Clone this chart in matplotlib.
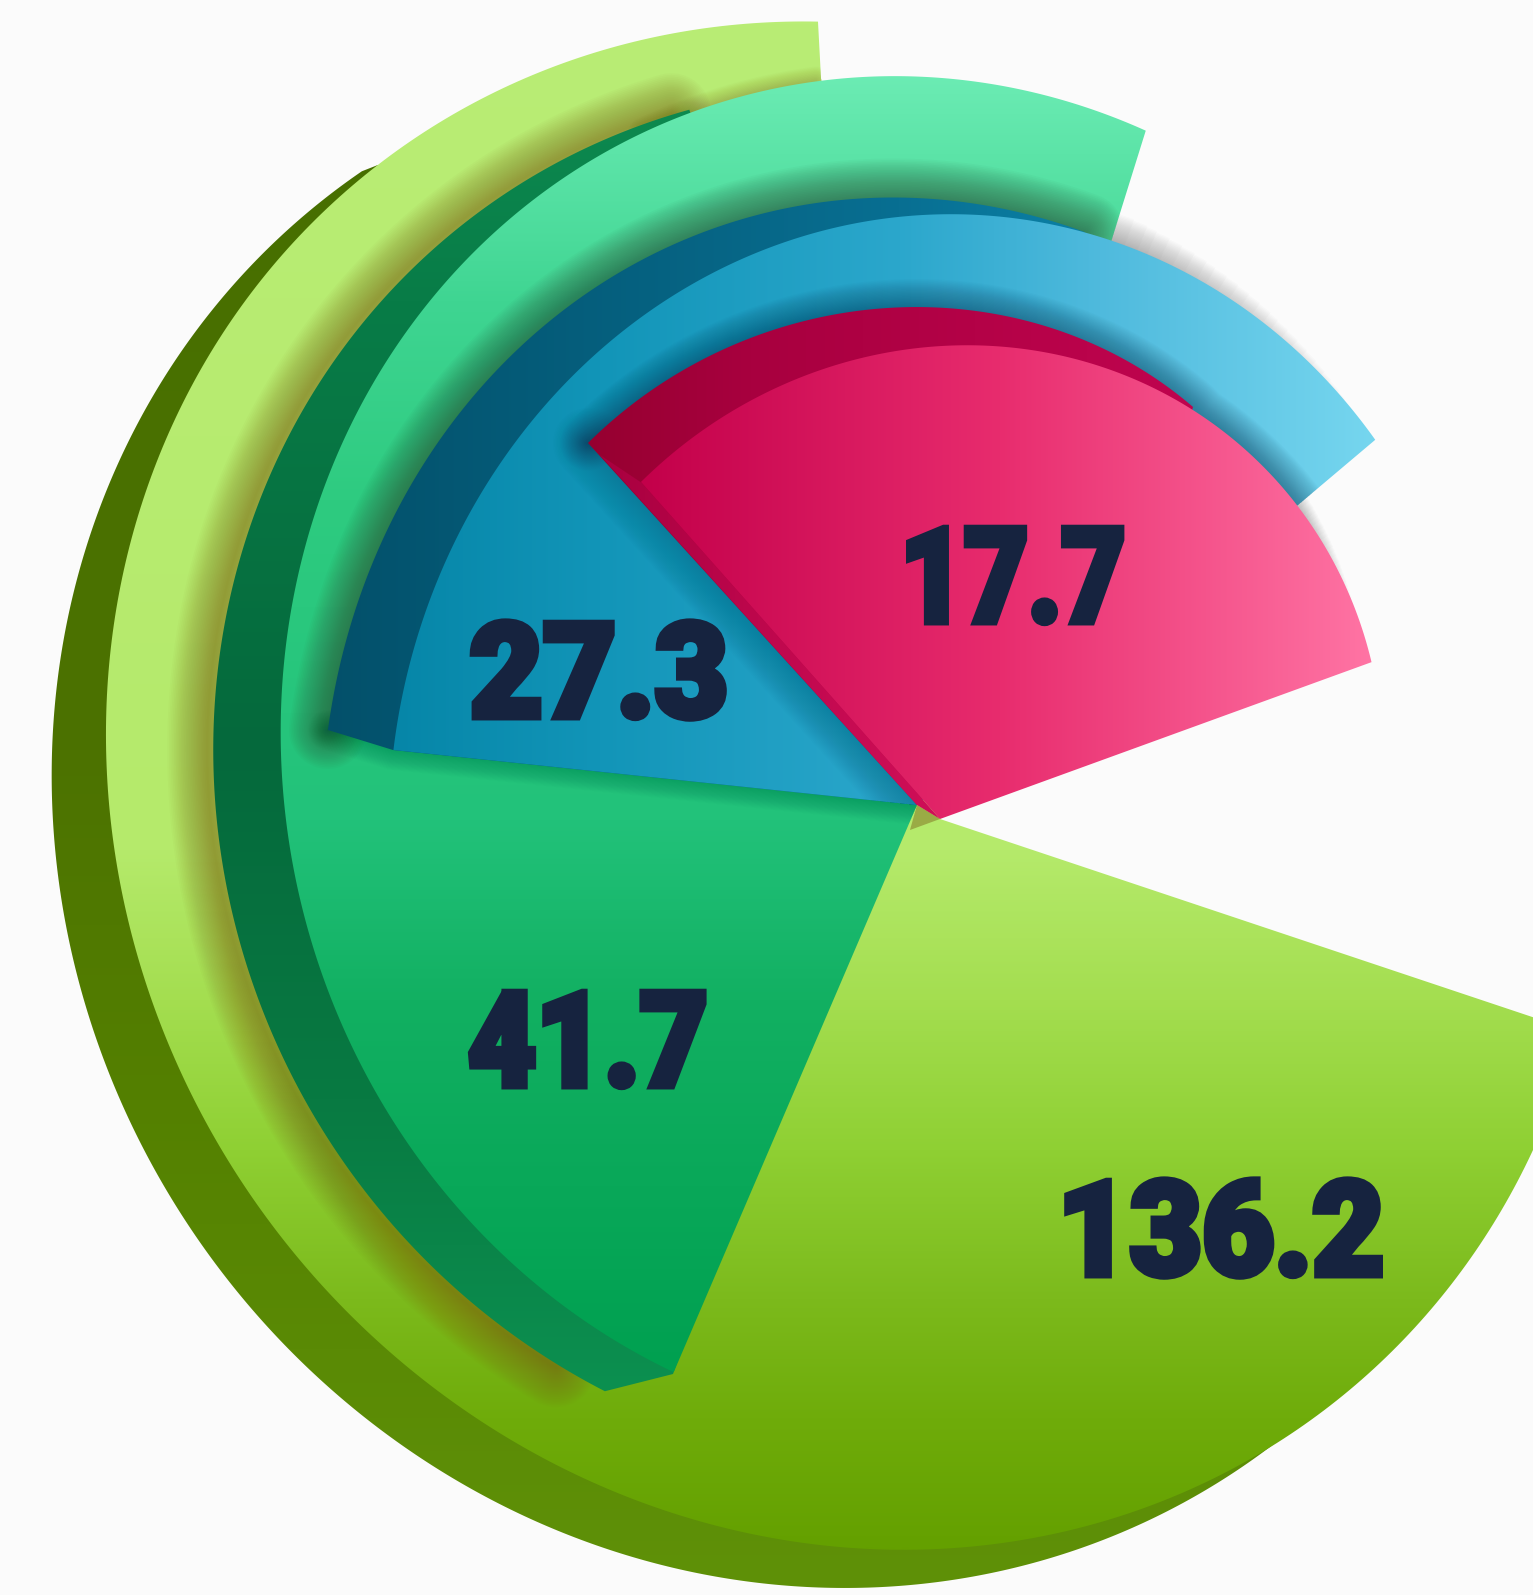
"""Layered 3D-style pie with four sections."""
import numpy as np
import matplotlib
matplotlib.use("Agg")
import matplotlib.pyplot as plt
import matplotlib.patheffects as pe
from matplotlib.colors import LinearSegmentedColormap
from matplotlib.patches import PathPatch, Polygon
from matplotlib.path import Path
from matplotlib.transforms import Affine2D

labels = ["136.2", "41.7", "27.3", "17.7"]
label_x = [1221, 588, 599, 1013]
label_base = [1275, 1086, 717, 622]
label_w = [334, 247, 266, 232]

# outlines of the sections
big_side_edge = [(363, 173), (267, 243), (183, 353), (103, 500), (53, 750), (83, 1000),
                 (137, 1133), (257, 1320), (493, 1500), (600, 1543), (800, 1587),
                 (1000, 1573), (1136, 1527), (1272, 1444)]
big_face_edge = [(1533, 1144), (1408, 1342), (1272, 1444), (1000, 1543), (800, 1542),
                 (567, 1467), (373, 1343), (253, 1197), (153, 1000), (118, 883),
                 (108, 717), (143, 500), (207, 360), (273, 263), (377, 167), (540, 72),
                 (660, 35), (818, 22)]
teal_side_edge = [(690, 112), (540, 165), (407, 280), (307, 407), (258, 500), (213, 767),
                  (257, 1000), (373, 1197), (540, 1355), (605, 1391)]
teal_face_edge = [(673, 1374), (633, 1350), (540, 1287), (423, 1160), (330, 1000),
                  (279, 733), (318, 500), (360, 410), (440, 293), (540, 197), (660, 122),
                  (821, 78), (889, 76), (1017, 92), (1146, 130)]
blue_side_edge = [(328, 730), (402, 500), (460, 413), (540, 330), (660, 250), (874, 198),
                  (1017, 212), (1085, 232)]
blue_face_edge = [(393, 750), (478, 500), (540, 413), (767, 243), (838, 226), (946, 218),
                  (946, 218), (1110, 242), (1217, 283), (1300, 357), (1375, 440)]
pink_side_edge = [(588, 443), (667, 380), (916, 307), (1000, 315), (1100, 347), (1193, 407)]
pink_face_edge = [(642, 483), (707, 423), (800, 380), (961, 347), (1100, 363), (1200, 417),
                  (1298, 505), (1340, 577), (1372, 662)]

W, H = 1533, 1595
TEXT = "#16233f"
APEX = (940, 819)
HUB = (917, 805)


def curve(points, n=400):
    """Elliptical arc fitted through read points, from the first to the last."""
    pts = np.array(points, float)
    mid = pts.mean(axis=0)
    x, y = (pts - mid).T / 500
    a, b, c, d, e = np.linalg.lstsq(np.column_stack([x * x, x * y, y * y, x, y]),
                                    np.ones(len(x)), rcond=None)[0]
    q = np.array([[a, b / 2], [b / 2, c]])
    cen = np.linalg.solve(2 * q, [-d, -e])
    k = 1 - (cen @ q @ cen + d * cen[0] + e * cen[1])
    ang = np.unwrap(np.arctan2(y - cen[1], x - cen[0]))
    t = np.linspace(ang[0], ang[-1], n)
    u = np.column_stack([np.cos(t), np.sin(t)])
    r = np.sqrt(k / np.einsum("ij,jk,ik->i", u, q, u))
    return (cen + u * r[:, None]) * 500 + mid


def part(arc, xmin, xmax, ymax=9999):
    return arc[(arc[:, 0] > xmin) & (arc[:, 0] < xmax) & (arc[:, 1] < ymax)]


def closed(*parts):
    pts = np.vstack([np.atleast_2d(p) for p in parts])
    pts = np.vstack([pts, pts[0]])
    codes = [Path.MOVETO] + [Path.LINETO] * (len(pts) - 2) + [Path.CLOSEPOLY]
    return Path(pts, codes)


def fill(ax, path, stops, vertical=True, zorder=1):
    """Paint a path with a linear gradient given as (pixel, colour) stops."""
    lo, hi = stops[0][0], stops[-1][0]
    cmap = LinearSegmentedColormap.from_list(
        "g", [((p - lo) / (hi - lo), c) for p, c in stops], N=1024)
    if vertical:
        g = np.clip((np.linspace(-100, H + 100, 1024) - lo) / (hi - lo), 0, 1)[:, None]
    else:
        g = np.clip((np.linspace(-100, W + 200, 1024) - lo) / (hi - lo), 0, 1)[None, :]
    im = ax.imshow(g, extent=(-100, W + 200, H + 100, -100), cmap=cmap, vmin=0, vmax=1,
                   aspect="auto", zorder=zorder)
    im.set_clip_path(PathPatch(path, transform=ax.transData))


def shadow(ax, pts, under, color, width, dx=0, dy=0, peak=0.03, zorder=1, taper=False):
    """Soft shadow: stacked strokes along an open edge, clipped to what lies below."""
    pts = np.asarray(pts, float) + [dx, dy]
    clip = None if under is None else PathPatch(under, transform=ax.transData)
    for w in np.linspace(width, 2, 24):
        # with taper the wide strokes stop early, so the shadow thins out along the edge
        keep = int(len(pts) * (1.05 - w / width)) if taper else len(pts)
        if keep < 2:
            continue
        p = PathPatch(Path(pts[:keep]), fc="none", ec=color, lw=w * 0.72, alpha=peak,
                      capstyle="butt" if taper else "round", joinstyle="round", zorder=zorder)
        ax.add_patch(p)
        if clip is not None:
            p.set_clip_path(clip)


class SqueezedStroke(pe.AbstractPathEffect):
    """Draw text narrower about its centre, with a mitred outline for weight."""

    def __init__(self, sx, cx, lw, color):
        super().__init__()
        self.sx, self.cx, self.lw, self.color = sx, cx, lw, color

    def draw_path(self, renderer, gc, tpath, affine, rgbFace):
        gc0 = renderer.new_gc()
        gc0.copy_properties(gc)
        gc0.set_linewidth(self.lw)
        gc0.set_foreground(self.color)
        gc0.set_joinstyle("miter")
        squeeze = Affine2D().translate(-self.cx, 0).scale(self.sx, 1).translate(self.cx, 0)
        renderer.draw_path(gc0, tpath, affine + squeeze, rgbFace)
        gc0.restore()


fig = plt.figure(figsize=(15.33, 15.95), dpi=100, facecolor="#fbfbfb")
ax = fig.add_axes([0, 0, 1, 1])
ax.set_facecolor("#fbfbfb")
ax.set_xlim(0, W)
ax.set_ylim(H, 0)
ax.axis("off")

big_side_arc = curve(big_side_edge)
big_face_arc = curve(big_face_edge)
teal_side_arc = curve(teal_side_edge)
teal_face_arc = curve(teal_face_edge)
blue_side_arc = curve(blue_side_edge)
blue_face_arc = curve(blue_face_edge)
pink_side_arc = curve(pink_side_edge)
pink_face_arc = curve(pink_face_edge)

# the side of the big section tapers into its face at the upper left
taper_end = part(big_face_arc, 0, 378, ymax=200)[-1]
big_side = closed(taper_end, big_side_arc, (940, 900))
big_face = closed(APEX, (1640, 1053), big_face_arc, (821, 78))
teal_side = closed(teal_side_arc, (673, 1374), (900, 750))
teal_face = closed(HUB, teal_face_arc, (1111, 242))
blue_side = closed(blue_side_arc, (917, 805), (393, 750))
blue_face = closed(HUB, blue_face_arc, (1298, 505))
pink_side = closed(pink_side_arc, (1150, 560), (917, 805))
pink_face = closed(APEX, pink_face_arc)
pink_strip = closed((600, 455), (642, 483), APEX, (917, 805))

# soft shadows on the background
shadow(ax, part(blue_face_arc, 1085, 1345), None, "#444444", 60, peak=0.02, zorder=0.5, taper=True)
shadow(ax, part(pink_face_arc, 1285, 1352), None, "#444444", 30, peak=0.014, zorder=0.5, taper=True)

# largest section
fill(ax, big_side, [(150, "#476f00"), (750, "#4c7200"), (1100, "#548000"),
                    (1350, "#5a8a05"), (1590, "#5f9108")], zorder=1)
fill(ax, big_face, [(22, "#b9ed75"), (850, "#b5ea6b"), (1000, "#a4de50"), (1150, "#8fd033"),
                    (1300, "#7cba1c"), (1420, "#6fac0a"), (1549, "#64a000")], zorder=2)
shadow(ax, teal_side_arc[3:-12], big_face, "#7a5a10", 80, dx=-6, peak=0.026, zorder=3)
shadow(ax, part(teal_face_arc, 640, 821, ymax=300), big_face, "#7a5a10", 30, peak=0.012, zorder=3)
ax.add_patch(Polygon([HUB, APEX, (910, 830)], closed=True, fc="#9aab45", ec="none", zorder=3))

# second section
fill(ax, teal_side, [(100, "#0d8a50"), (300, "#087c47"), (750, "#05693c"), (1100, "#087a42"),
                     (1391, "#0c9050")], zorder=4)
fill(ax, teal_face, [(73, "#6cecb4"), (300, "#3fd592"), (500, "#2ecb80"), (820, "#22c27a"),
                     (1000, "#12b062"), (1374, "#00a050")], zorder=5)
shadow(ax, blue_side_arc, teal_face, "#2a4a35", 78, peak=0.03, zorder=6)
shadow(ax, [(328, 730), (393, 750), HUB], teal_face, "#0a5a40", 40, peak=0.01, zorder=6)

# third section
fill(ax, blue_side, [(323, "#03506a"), (900, "#086f92"), (1085, "#0b80a5")],
     vertical=False, zorder=7)
fill(ax, blue_face, [(393, "#0686a8"), (600, "#1295b8"), (900, "#2ba7cc"), (1100, "#4fbadd"),
                     (1375, "#76d6ef")], vertical=False, zorder=8)
shadow(ax, np.vstack([pink_side_arc, part(pink_face_arc, 1200, 1298)]), blue_face, "#0a3c58", 56,
       peak=0.025, zorder=9)
shadow(ax, [(588, 443), HUB], blue_face, "#0a3c58", 70, peak=0.012, zorder=9)

# smallest section
fill(ax, pink_side, [(588, "#960030"), (750, "#a8003f"), (1200, "#c0044f")],
     vertical=False, zorder=10)
fill(ax, pink_strip, [(600, "#a8003f"), (780, "#c0084e"), (940, "#cf0f58")],
     vertical=False, zorder=10)
fill(ax, pink_face, [(642, "#c3004a"), (1000, "#e82c6e"), (1372, "#ff74a4")],
     vertical=False, zorder=11)

renderer = fig.canvas.get_renderer()
for lab, x, y, w in zip(labels, label_x, label_base, label_w):
    t = ax.text(x, y, lab, color=TEXT, fontsize=95, family=["Roboto", "DejaVu Sans"],
                weight="black", ha="center", va="baseline", zorder=20)
    box = t.get_window_extent(renderer)
    sx = (w - 7) / box.width
    t.set_path_effects([SqueezedStroke(sx, (box.x0 + box.x1) / 2, 5, TEXT)])

fig.savefig("out.png", dpi=100, facecolor=fig.get_facecolor())
